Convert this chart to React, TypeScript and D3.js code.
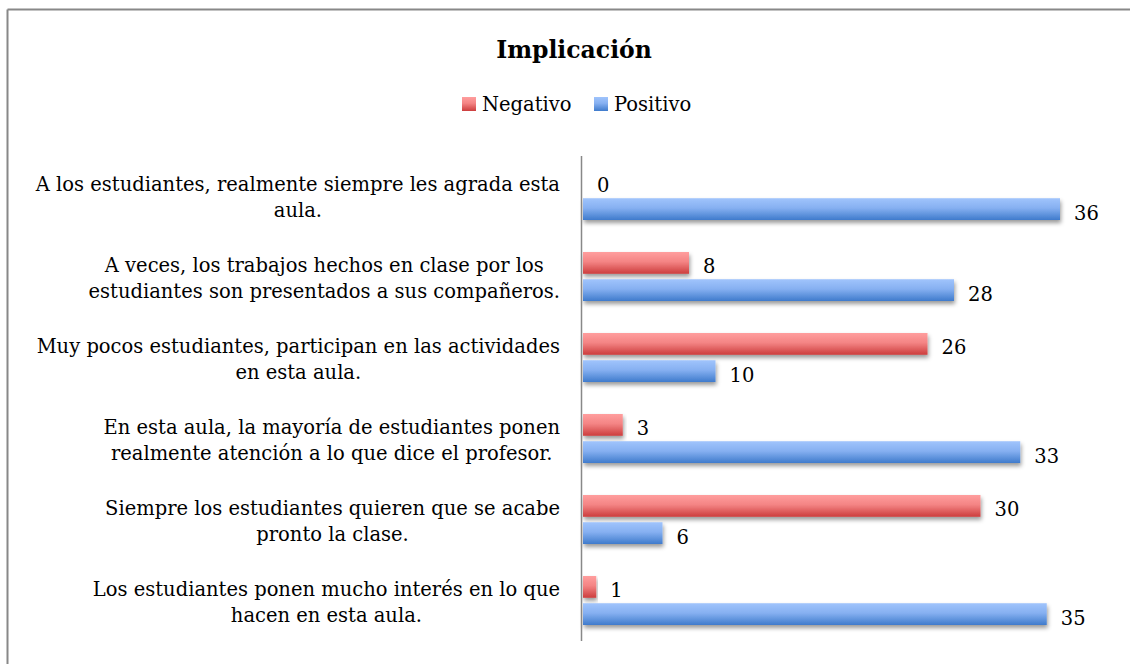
import React, { useLayoutEffect, useRef, useState } from "react";
import * as d3 from "d3";

const categories: string[][] = [
  ["A los estudiantes, realmente siempre les agrada esta", "aula."],
  ["A veces, los trabajos hechos en clase por los", "estudiantes son presentados a sus compañeros."],
  ["Muy pocos estudiantes, participan en las actividades", "en esta aula."],
  ["En esta aula, la mayoría de estudiantes ponen", "realmente atención a lo que dice el profesor."],
  ["Siempre los estudiantes quieren que se acabe", "pronto la clase."],
  ["Los estudiantes ponen mucho interés en lo que", "hacen en esta aula."],
];
const negativo = [0, 8, 26, 3, 30, 1];
const positivo = [36, 28, 10, 33, 6, 35];
const seriesNames = ["Negativo", "Positivo"];
const title = "Implicación";

const W = 1130;
const H = 664;
const FONT = "'DejaVu Serif', 'Liberation Serif', serif";
const FS = 19.5;

export default function App() {
  const x = d3.scaleLinear().domain([0, 36]).range([582, 1059]);
  const y = d3
    .scaleBand<number>()
    .domain(d3.range(categories.length))
    .range([155, 641]);
  const sub = d3.scaleBand<number>().domain([0, 1]).range([-24.5, 24.5]).paddingInner(0.2);
  const series = [negativo, positivo];
  const grads = ["gRed", "gBlue"];

  const labelRef = useRef<SVGGElement>(null);
  const [centers, setCenters] = useState<number[]>(categories.map(() => 300));

  useLayoutEffect(() => {
    if (!labelRef.current) return;
    const groups = labelRef.current.querySelectorAll("g.cat");
    const c: number[] = [];
    groups.forEach((g) => {
      let maxW = 0;
      g.querySelectorAll("text").forEach((t) => {
        maxW = Math.max(maxW, (t as SVGTextElement).getComputedTextLength());
      });
      c.push(560 - maxW / 2);
    });
    setCenters(c);
  }, []);

  return (
    <svg width={W} height={H} style={{ position: "absolute", left: 0, top: 0, background: "#fff" }}>
      <defs>
        <linearGradient id="gRed" x1="0" y1="0" x2="0" y2="1">
          <stop offset="0" stopColor="#ff9e9e" />
          <stop offset="0.45" stopColor="#f48484" />
          <stop offset="1" stopColor="#cc3d3d" />
        </linearGradient>
        <linearGradient id="gBlue" x1="0" y1="0" x2="0" y2="1">
          <stop offset="0" stopColor="#a0c4fc" />
          <stop offset="0.45" stopColor="#86b0f1" />
          <stop offset="1" stopColor="#3f7bcc" />
        </linearGradient>
        <filter id="shadow" x="-10%" y="-30%" width="120%" height="180%">
          <feDropShadow dx="1" dy="3" stdDeviation="2" floodColor="#000" floodOpacity="0.4" />
        </filter>
      </defs>

      {/* outer frame (top and left edges visible) */}
      <line x1={7.5} y1={9.5} x2={W} y2={9.5} stroke="#888" strokeWidth={2} />
      <line x1={7.5} y1={9.5} x2={7.5} y2={H} stroke="#888" strokeWidth={2} />

      <text x={574} y={58} textAnchor="middle" fontFamily={FONT} fontWeight="bold" fontSize={23.5} fill="#000">
        {title}
      </text>

      {/* legend */}
      {seriesNames.map((n, i) => {
        const lx = i === 0 ? 462 : 594;
        return (
          <g key={n}>
            <rect x={lx} y={97} width={14} height={14} fill={`url(#${grads[i]})`} />
            <text x={lx + 20} y={111} fontFamily={FONT} fontSize={FS} fill="#000">
              {n}
            </text>
          </g>
        );
      })}

      {/* bars */}
      {series.map((vals, si) =>
        vals.map((v, ci) => {
          const cy = (y(ci) as number) + y.bandwidth() / 2;
          const by = cy + (sub(si) as number);
          return (
            <g key={`${si}-${ci}`}>
              {v > 0 && (
                <rect
                  x={x(0) + 1}
                  y={by}
                  width={x(v) - x(0)}
                  height={sub.bandwidth()}
                  fill={`url(#${grads[si]})`}
                  filter="url(#shadow)"
                />
              )}
              <text
                x={x(v) + 15}
                y={by + sub.bandwidth() / 2 + 4}
                dominantBaseline="central"
                fontFamily={FONT}
                fontSize={FS}
                fill="#000"
              >
                {v}
              </text>
            </g>
          );
        })
      )}

      {/* axis */}
      <line x1={581.5} y1={156} x2={581.5} y2={641} stroke="#888" strokeWidth={1.5} />

      {/* category labels */}
      <g ref={labelRef}>
        {categories.map((lines, ci) => {
          const cy = (y(ci) as number) + y.bandwidth() / 2;
          return (
            <g className="cat" key={ci}>
              {lines.map((l, li) => (
                <text
                  key={li}
                  x={centers[ci]}
                  y={cy + (li - (lines.length - 1) / 2) * 25.5 + 2}
                  textAnchor="middle"
                  dominantBaseline="central"
                  fontFamily={FONT}
                  fontSize={FS}
                  fill="#000"
                >
                  {l}
                </text>
              ))}
            </g>
          );
        })}
      </g>
    </svg>
  );
}
